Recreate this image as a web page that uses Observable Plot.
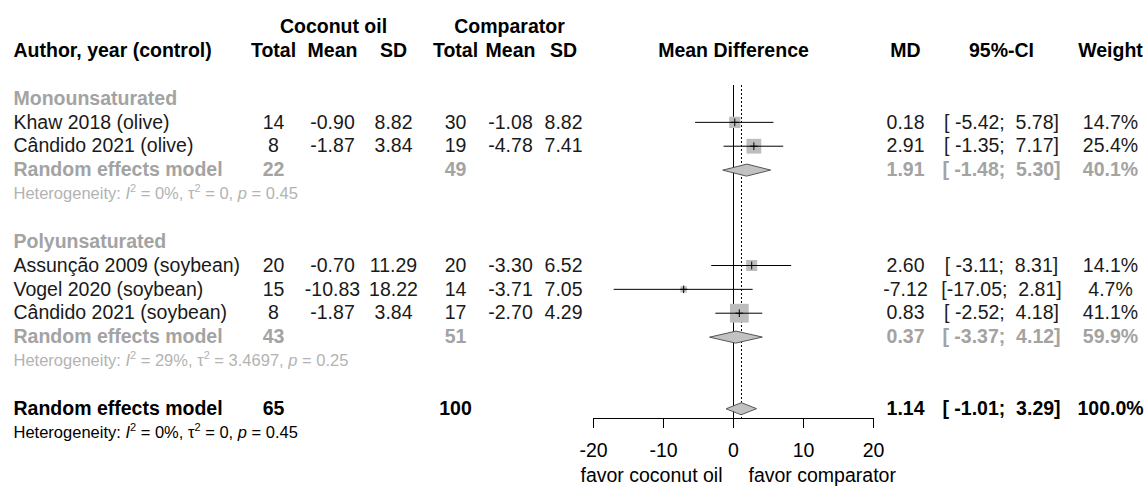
<!DOCTYPE html>
<html>
<head>
<meta charset="utf-8">
<script src="https://cdn.jsdelivr.net/npm/d3@7"></script>
<script src="https://cdn.jsdelivr.net/npm/@observablehq/plot@0.6"></script>
<style>
  body { margin: 0; background: #fff; }
  svg text { white-space: pre; }
</style>
</head>
<body>
<div id="chart"></div>
<script>
// ---------------- DATA ----------------
const studies = ["Khaw 2018 (olive)", "Cândido 2021 (olive)", "Assunção 2009 (soybean)", "Vogel 2020 (soybean)", "Cândido 2021 (soybean)"];
const studyGroup = ["Monounsaturated", "Monounsaturated", "Polyunsaturated", "Polyunsaturated", "Polyunsaturated"];
const coconutTotal = [14, 8, 20, 15, 8];
const coconutMean = [-0.90, -1.87, -0.70, -10.83, -1.87];
const coconutSD = [8.82, 3.84, 11.29, 18.22, 3.84];
const compTotal = [30, 19, 20, 14, 17];
const compMean = [-1.08, -4.78, -3.30, -3.71, -2.70];
const compSD = [8.82, 7.41, 6.52, 7.05, 4.29];
const studyMD = [0.18, 2.91, 2.60, -7.12, 0.83];
const studyLow = [-5.42, -1.35, -3.11, -17.05, -2.52];
const studyHigh = [5.78, 7.17, 8.31, 2.81, 4.18];
const studyWeight = [14.7, 25.4, 14.1, 4.7, 41.1];

const groups = ["Monounsaturated", "Polyunsaturated"];
const groupCoconutTotal = [22, 43];
const groupCompTotal = [49, 51];
const groupMD = [1.91, 0.37];
const groupLow = [-1.48, -3.37];
const groupHigh = [5.30, 4.12];
const groupWeight = [40.1, 59.9];
const groupI2 = ["0%", "29%"];
const groupTau2 = ["0", "3.4697"];
const groupP = ["0.45", "0.25"];

const overallCoconutTotal = 65;
const overallCompTotal = 100;
const overallMD = 1.14;
const overallLow = -1.01;
const overallHigh = 3.29;
const overallWeight = 100.0;
const overallI2 = "0%";
const overallTau2 = "0";
const overallP = "0.45";

const axisTicks = [-20, -10, 0, 10, 20];
const nullEffect = 0;
const labelLeft = "favor coconut oil";
const labelRight = "favor comparator";
const modelLabel = "Random effects model";
const headerTop = {cGroup: "Coconut oil", eGroup: "Comparator"};
const headerCols = {label: "Author, year (control)", cTotal: "Total", cMean: "Mean", cSD: "SD",
  eTotal: "Total", eMean: "Mean", eSD: "SD", forest: "Mean Difference", md: "MD", ci: "95%-CI", weight: "Weight"};

// ---------------- LAYOUT ----------------
const W = 1147, H = 486;
const mL = 593, mR = 274, mT = 85, mB = 68;
const colX = {label: 13, cGroup: 333, cTotal: 273, cMean: 332, cSD: 393, eGroup: 509, eTotal: 455, eMean: 510, eSD: 563,
  forest: 733, md: 905, ci: 1001, weight: 1110};
const FONT = "'Liberation Sans', Arial, Helvetica, sans-serif";
const FS = 19.5, FS_HET = 16.5;
const styles = {
  header:     {fontWeight: "bold", fill: "#000", fontSize: FS},
  groupHead:  {fontWeight: "bold", fill: "#a3a3a3", fontSize: FS},
  study:      {fontWeight: "normal", fill: "#1a1a1a", fontSize: FS},
  groupRE:    {fontWeight: "bold", fill: "#a3a3a3", fontSize: FS},
  groupHet:   {fontWeight: "normal", fill: "#b3b3b3", fontSize: FS_HET},
  overallRE:  {fontWeight: "bold", fill: "#000", fontSize: FS},
  overallHet: {fontWeight: "normal", fill: "#000", fontSize: FS_HET}
};

// ---------------- BUILD TABLE ----------------
const NB = "\u00a0";
const f2 = v => v.toFixed(2);
const ciText = (lo, hi) => "[" + f2(lo).padStart(6, NB) + ";" + NB + f2(hi).padStart(5, NB) + "]";
const wText = w => w.toFixed(1) + "%";
const hetText = (i2, t2, p) => `Heterogeneity: I^2 = ${i2}, τ^2 = ${t2}, p = ${p}`;

const cells = [];
const add = (row, col, text, style) => cells.push({row, col, text: String(text), style});
for (const [k, v] of Object.entries(headerTop)) add(-3, k, v, "header");
for (const [k, v] of Object.entries(headerCols)) add(-2, k, v, "header");

const studyRows = [];
const models = [];
let r = 0;
groups.forEach((g, gi) => {
  add(r, "label", g, "groupHead"); r++;
  studies.forEach((s, i) => {
    if (studyGroup[i] !== g) return;
    add(r, "label", s, "study");
    add(r, "cTotal", coconutTotal[i], "study");
    add(r, "cMean", f2(coconutMean[i]), "study");
    add(r, "cSD", f2(coconutSD[i]), "study");
    add(r, "eTotal", compTotal[i], "study");
    add(r, "eMean", f2(compMean[i]), "study");
    add(r, "eSD", f2(compSD[i]), "study");
    add(r, "md", f2(studyMD[i]), "study");
    add(r, "ci", ciText(studyLow[i], studyHigh[i]), "study");
    add(r, "weight", wText(studyWeight[i]), "study");
    studyRows.push({row: r, md: studyMD[i], lo: studyLow[i], hi: studyHigh[i], weight: studyWeight[i]});
    r++;
  });
  add(r, "label", modelLabel, "groupRE");
  add(r, "cTotal", groupCoconutTotal[gi], "groupRE");
  add(r, "eTotal", groupCompTotal[gi], "groupRE");
  add(r, "md", f2(groupMD[gi]), "groupRE");
  add(r, "ci", ciText(groupLow[gi], groupHigh[gi]), "groupRE");
  add(r, "weight", wText(groupWeight[gi]), "groupRE");
  models.push({id: g, row: r, md: groupMD[gi], lo: groupLow[gi], hi: groupHigh[gi]});
  r++;
  add(r, "label", hetText(groupI2[gi], groupTau2[gi], groupP[gi]), "groupHet");
  r += 2;
});
add(r, "label", modelLabel, "overallRE");
add(r, "cTotal", overallCoconutTotal, "overallRE");
add(r, "eTotal", overallCompTotal, "overallRE");
add(r, "md", f2(overallMD), "overallRE");
add(r, "ci", ciText(overallLow, overallHigh), "overallRE");
add(r, "weight", wText(overallWeight), "overallRE");
models.push({id: "overall", row: r, md: overallMD, lo: overallLow, hi: overallHigh});
r++;
add(r, "label", hetText(overallI2, overallTau2, overallP), "overallHet");
const lastRow = r;
const favorRow = lastRow + 2;

const halfH = 0.25;
const diamondPts = models.flatMap(m => [
  {id: m.id, x: m.lo, y: m.row},
  {id: m.id, x: m.md, y: m.row - halfH},
  {id: m.id, x: m.hi, y: m.row},
  {id: m.id, x: m.md, y: m.row + halfH}
]);

const textMarks = [];
for (const [col, byStyle] of d3.group(cells, d => d.col, d => d.style)) {
  for (const [st, arr] of byStyle) {
    textMarks.push(Plot.text(arr, {
      y: "row", text: "text", frameAnchor: "left",
      dx: colX[col] - mL,
      textAnchor: col === "label" ? "start" : "middle",
      ...styles[st]
    }));
  }
}

const plot = Plot.plot({
  width: W, height: H,
  marginLeft: mL, marginRight: mR, marginTop: mT, marginBottom: mB,
  x: {domain: [axisTicks[0], axisTicks[axisTicks.length - 1]]},
  y: {domain: [0, lastRow], range: [98, 432], axis: null},
  r: {range: [0, 10.6]},
  style: {fontFamily: FONT, fontSize: FS + "px", background: "white", color: "black"},
  marks: [
    Plot.ruleX([nullEffect], {stroke: "#000", strokeWidth: 1}),
    Plot.ruleX([overallMD], {stroke: "#000", strokeWidth: 1, strokeDasharray: "2,2"}),
    Plot.dot(studyRows, {x: "md", y: "row", r: "weight", symbol: "square", fill: "#bdbdbd", stroke: "none"}),
    Plot.ruleY(studyRows, {y: "row", x1: "lo", x2: "hi", stroke: "#000", strokeWidth: 1}),
    Plot.dot(studyRows, {x: "md", y: "row", symbol: "plus", r: 2.6, stroke: "#000", strokeWidth: 1}),
    Plot.line(diamondPts, {x: "x", y: "y", z: "id", curve: "linear-closed", fill: "#c2c2c2", stroke: "#555", strokeWidth: 1}),
    Plot.frame({anchor: "bottom", stroke: "#000"}),
    Plot.axisX({ticks: axisTicks, tickSize: 10, tickPadding: 15, fontSize: FS, label: null, tickFormat: d => String(d), stroke: "#000"}),
    Plot.text([labelLeft], {x: () => nullEffect, y: () => favorRow, text: d => d, textAnchor: "end", dx: -11, dy: -4, fontSize: FS, fill: "#000"}),
    Plot.text([labelRight], {x: () => nullEffect, y: () => favorRow, text: d => d, textAnchor: "start", dx: 15, dy: -4, fontSize: FS, fill: "#000"}),
    ...textMarks
  ]
});

// italic / superscript styling of heterogeneity statistics
const ns = "http://www.w3.org/2000/svg";
plot.querySelectorAll("text").forEach(t => {
  const s = t.textContent;
  const m = s.match(/^Heterogeneity: I\^2 = (.*?), τ\^2 = (.*?), p = (.*)$/);
  if (!m) return;
  while (t.firstChild) t.removeChild(t.firstChild);
  const span = (txt, attrs = {}) => {
    const ts = document.createElementNS(ns, "tspan");
    ts.textContent = txt;
    for (const k in attrs) ts.setAttribute(k, attrs[k]);
    t.appendChild(ts);
  };
  span("Heterogeneity: ");
  span("I", {"font-style": "italic"});
  span("2", {dy: "-7", "font-size": "11"});
  span(` = ${m[1]}, `, {dy: "7"});
  span("τ");
  span("2", {dy: "-7", "font-size": "11"});
  span(` = ${m[2]}, `, {dy: "7"});
  span("p", {"font-style": "italic"});
  span(` = ${m[3]}`);
});

document.getElementById("chart").appendChild(plot);
</script>
</body>
</html>
